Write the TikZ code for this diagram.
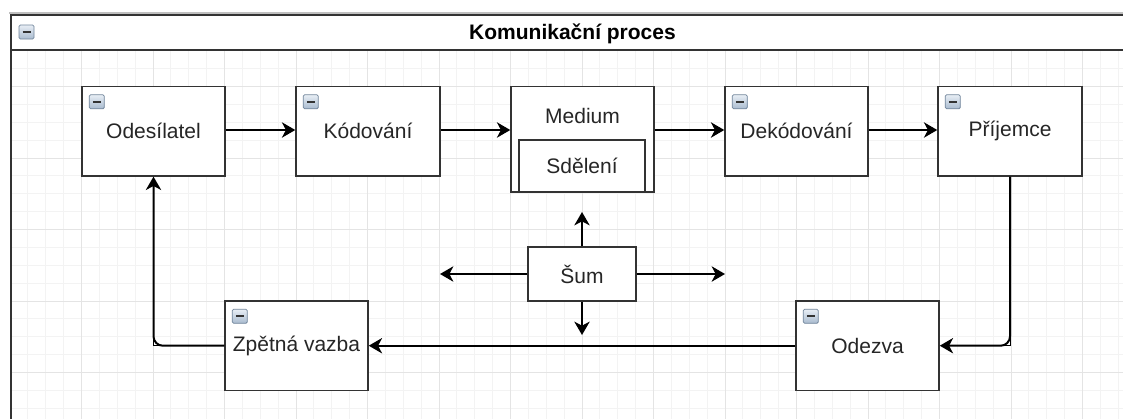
\documentclass[tikz,border=0pt]{standalone}
\usepackage{fontspec}
\setmainfont{Liberation Sans}
\usetikzlibrary{arrows.meta}

\definecolor{edgegray}{HTML}{333333}
\definecolor{gridminor}{HTML}{F3F3F3}
\definecolor{gridmajor}{HTML}{E4E4E4}
\definecolor{icontop}{HTML}{E8EEF5}
\definecolor{iconbottom}{HTML}{A9BBCF}
\definecolor{iconedge}{HTML}{72869C}

\tikzset{
  procbox/.style={draw=edgegray, line width=1.1pt, fill=white, inner sep=0pt,
    font=\fontsize{15.75}{18}\selectfont, text=black!85},
  pxsize/.style 2 args={minimum width=#1*0.75pt, minimum height=#2*0.75pt},
  txt/.style={inner sep=0pt, font=\fontsize{15.75}{18}\selectfont, text=black!85},
  flow/.style={draw=black, line width=1.5pt,
    -{Stealth[length=10pt, width=11.5pt, inset=3pt]}},
  elbowflow/.style={draw=black, line width=1.5pt, rounded corners=7pt,
    -{Stealth[length=10pt, width=11.5pt, inset=3pt]}},
  sharpedge/.style={draw=black, line width=0.5pt},
  collapse/.pic={
    \draw[draw=iconedge, line width=0.6pt, rounded corners=1pt,
      top color=icontop, bottom color=iconbottom] (0,0) rectangle (15,14);
    \draw[black!80, line width=1.6pt] (3.5,7) -- (11.5,7);
  }
}

\begin{document}
\begin{tikzpicture}[x=0.75pt, y=-0.75pt]
\useasboundingbox (0,0) rectangle (1123,419);
\fill[white] (0,0) rectangle (1123,419);

% background grid of the container
\begin{scope}
  \clip (10,50) rectangle (1123,419);
  \foreach \i in {0,...,63}
    \draw[gridminor, line width=0.6pt] ({10+17.875*\i},50) -- ++(0,369);
  \foreach \j in {1,...,23}
    \draw[gridminor, line width=0.6pt] (10,{15+17.875*\j}) -- (1123,{15+17.875*\j});
  \foreach \i in {0,...,15}
    \draw[gridmajor, line width=0.7pt] ({10+71.5*\i},50) -- ++(0,369);
  \foreach \j in {1,...,6}
    \draw[gridmajor, line width=0.7pt] (10,{15+71.5*\j}) -- (1123,{15+71.5*\j});
\end{scope}

% container frame with header
\draw[black!25, line width=2.2pt] (9,13) -- (1123,13);
\draw[edgegray, line width=1.4pt] (10.5,15) -- (1123,15);
\draw[edgegray, line width=1.4pt] (10,50) -- (1123,50);
\draw[edgegray, line width=2pt] (11,14.3) -- (11,419);
\node[inner sep=0pt, font=\bfseries\fontsize{15.75}{18}\selectfont] (title) at (572.5,34) {Komunikační proces};
\pic at (19,25) {collapse};

% process boxes
\node[procbox, pxsize={143}{89.4}] (od) at (153.5,131.2) {Odesílatel};
\node[procbox, pxsize={144}{89.4}] (kod) at (368,131.2) {Kódování};
\node[procbox, pxsize={143}{105.5}] (med) at (582.5,139.25) {};
\node[procbox, pxsize={126}{52}] (sdel) at (582,166) {Sdělení};
\node[txt] (medtxt) at (582.5,116) {Medium};
\node[procbox, pxsize={143}{89.4}] (dek) at (796.5,131.2) {Dekódování};
\node[procbox, pxsize={144}{89.4}] (pri) at (1010,131.2) {Příjemce};
\node[procbox, pxsize={143}{89.4}] (odz) at (867.5,345.7) {Odezva};
\node[procbox, pxsize={143}{89.4}] (zv) at (296.5,345.7) {Zpětná vazba};
\node[procbox, pxsize={108}{54}] (sum) at (582,274) {Šum};

% collapse markers
\foreach \b in {od,kod,dek,pri,odz,zv}
  \pic at ([shift={(8,9)}]\b.north west) {collapse};

% main flow
\draw[flow] (od.east |- 0,130) -- (kod.west |- 0,130);
\draw[flow] (kod.east |- 0,130) -- (med.west |- 0,130);
\draw[flow] (med.east |- 0,130) -- (dek.west |- 0,130);
\draw[flow] (dek.east |- 0,130) -- (pri.west |- 0,130);

% feedback loop
\draw[sharpedge] (pri.south) -- (pri.south |- odz.east) -- ++(-10,0);
\draw[elbowflow] (pri.south) -- (pri.south |- odz.east) -- (odz.east);
\draw[flow] (odz.west) -- (zv.east);
\draw[sharpedge] (zv.west) -- (od.south |- zv.west) -- ++(0,-10);
\draw[elbowflow] (zv.west) -- (od.south |- zv.west) -- (od.south);

% noise spreading out
\coordinate (sumU) at (582,212);
\coordinate (sumD) at (582,335);
\coordinate (sumL) at (440,274);
\coordinate (sumR) at (725,274);
\draw[flow] (sum.north) -- (sumU);
\draw[flow] (sum.south) -- (sumD);
\draw[flow] (sum.west) -- (sumL);
\draw[flow] (sum.east) -- (sumR);
\end{tikzpicture}
\end{document}
